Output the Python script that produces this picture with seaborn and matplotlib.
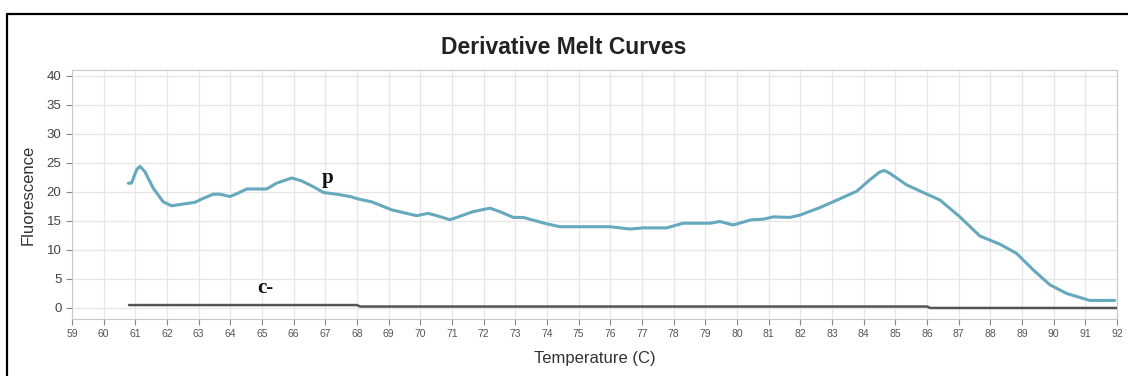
import matplotlib.pyplot as plt
import matplotlib.lines as mlines
import pandas as pd
import seaborn as sns
import numpy as np

# Sample curve (p)
temp_p = [60.78, 60.88, 60.94, 61.05, 61.15, 61.3, 61.57, 61.88, 62.15, 62.5, 62.88,
          63.15, 63.46, 63.67, 63.99, 64.25, 64.52, 65.15, 65.46, 65.94, 66.25,
          66.62, 66.94, 67.36, 67.78, 68.1, 68.46, 69.1, 69.88, 70.25, 70.52,
          70.94, 71.67, 72.2, 72.51, 72.94, 73.25, 73.99, 74.41, 75.36, 75.99,
          76.62, 77.04, 77.78, 78.3, 79.15, 79.46, 79.88, 80.46, 80.83, 81.15,
          81.67, 81.99, 82.62, 83.04, 83.78, 84.2, 84.5, 84.65, 84.83, 85.36, 85.88,
          86.41, 87.04, 87.67, 88.3, 88.83, 89.35, 89.88, 90.41, 91.14, 91.93]
fluor_p = [21.5, 21.5, 22.4, 23.9, 24.4, 23.5, 20.6, 18.3, 17.6, 17.9, 18.2,
           18.9, 19.6, 19.6, 19.2, 19.8, 20.5, 20.5, 21.5, 22.4, 21.9,
           20.9, 19.9, 19.6, 19.2, 18.7, 18.3, 16.9, 15.9, 16.3, 15.9,
           15.2, 16.6, 17.2, 16.6, 15.6, 15.6, 14.5, 14.0, 14.0, 14.0,
           13.6, 13.8, 13.8, 14.6, 14.6, 14.9, 14.3, 15.2, 15.3, 15.7,
           15.6, 16.0, 17.3, 18.3, 20.1, 22.1, 23.4, 23.7, 23.2, 21.2, 19.9,
           18.6, 15.7, 12.4, 11.0, 9.4, 6.6, 4.0, 2.5, 1.3, 1.3]

# Negative control (c-)
temp_c = [60.8, 68.0, 68.1, 86.0, 86.1, 92.0]
fluor_c = [0.5, 0.5, 0.25, 0.25, 0.0, 0.0]

x_ticks = list(range(59, 93))
y_ticks = [0, 5, 10, 15, 20, 25, 30, 35, 40]

sns.set_style("white")
plt.rcParams['font.family'] = ['Liberation Sans', 'DejaVu Sans']

df_p = pd.DataFrame({'Temperature': temp_p, 'Fluorescence': fluor_p})
df_c = pd.DataFrame({'Temperature': temp_c, 'Fluorescence': fluor_c})

fig = plt.figure(figsize=(11.28, 3.76), dpi=100)
ax = fig.add_axes([0.0638, 0.1516, 0.9264, 0.6622])

sns.lineplot(data=df_p, x='Temperature', y='Fluorescence', ax=ax,
             color='#66a8bd', linewidth=2.2, sort=False)
sns.lineplot(data=df_c, x='Temperature', y='Fluorescence', ax=ax,
             color='#555555', linewidth=1.8, sort=False)

ax.set_xlim(59, 92)
ax.set_ylim(-1.9, 41)
ax.set_xticks(x_ticks)
ax.set_yticks(y_ticks)
ax.grid(True, color='#e6e6e6', linewidth=0.9)
for s in ax.spines.values():
    s.set_color('#c8c8c8')
ax.tick_params(axis='x', labelsize=7.5, colors='#888888', labelcolor='#555555',
               length=4, direction='out', bottom=True)
ax.tick_params(axis='y', labelsize=9.5, colors='#888888', labelcolor='#444444',
               length=4, direction='out', left=True)

ax.set_xlabel("Temperature (C)", fontsize=12, color='#333333', labelpad=8)
ax.set_ylabel("Fluorescence", fontsize=12, color='#333333', labelpad=8)
fig.text(0.5, 0.873, "Derivative Melt Curves", ha='center', va='center',
         fontsize=16.5, fontweight='bold', color='#222222')

ax.text(67.08, 22.4, "p", fontsize=15, fontweight='bold', family='Liberation Serif',
        ha='center', va='center', color='#111111')
ax.text(65.1, 3.4, "c-", fontsize=15, fontweight='bold', family='Liberation Serif',
        ha='center', va='center', color='#111111')

# Outer frame (left and top edges visible)
fig.add_artist(mlines.Line2D([0.0062, 0.0062], [0, 0.9628], color='black',
                             linewidth=1.6, transform=fig.transFigure))
fig.add_artist(mlines.Line2D([0.0062, 1.0], [0.9628, 0.9628], color='black',
                             linewidth=1.6, transform=fig.transFigure))

fig.savefig('out.png', dpi=100)
